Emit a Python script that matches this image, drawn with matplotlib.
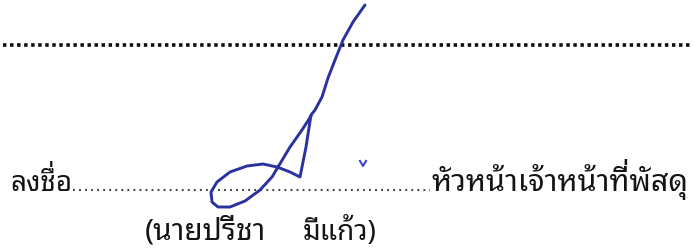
import matplotlib
matplotlib.use('Agg')
import matplotlib.pyplot as plt
import numpy as np

# ข้อความในเอกสาร
label_sign = 'ลงชื่อ'
label_role = 'หัวหน้าเจ้าหน้าที่พัสดุ'
label_name = '(นายปรีชา'
label_surname = 'มีแก้ว)'

# เส้นลายเซ็น (พิกัดพิกเซลของภาพ)
sig_x = [365, 353, 343, 335, 328, 322, 315, 311, 306, 300, 290, 277,
         263, 247, 230, 217, 211, 212, 218, 230, 245, 260, 272, 278,
         290, 302, 311]
sig_y = [5, 22, 40, 60, 78, 97, 110, 115, 147, 177, 172, 167,
         164, 166, 172, 182, 192, 202, 207, 207, 201, 190, 177, 167,
         147, 130, 116]

# เครื่องหมายเล็ก ๆ สีน้ำเงิน
tick_x = [360, 363, 366]
tick_y = [161, 166, 161]

W, H = 693, 248
fig = plt.figure(figsize=(W / 100, H / 100), dpi=100)
ax = fig.add_axes([0, 0, 1, 1])
ax.set_xlim(0, W)
ax.set_ylim(H, 0)
ax.axis('off')
renderer = fig.canvas.get_renderer()

style = dict(family=['Noto Sans Thai Looped', 'DejaVu Sans'],
             weight='semibold', color='#141414', va='baseline')


def width_of(s, size):
    t = ax.text(0, 0, s, fontsize=size, **style)
    w = t.get_window_extent(renderer).width
    t.remove()
    return w


def thai_text(x, y, s, size):
    # วรรณยุกต์ที่อยู่บนสระบน ต้องยกขึ้นเอง เพราะ matplotlib ไม่จัดตำแหน่งให้
    marks = '\u0e48\u0e49\u0e4a\u0e4b'
    uppers = '\u0e31\u0e34\u0e35\u0e36\u0e37\u0e47\u0e4d'
    base = ''
    raised = []
    for i, ch in enumerate(s):
        if ch in marks and i > 0 and s[i - 1] in uppers:
            raised.append((len(base), ch))
        else:
            base += ch
    ax.text(x, y, base, fontsize=size, **style)
    for pos, ch in raised:
        w = width_of(base[:pos - 1], size)
        ax.text(x + w - 1, y - 0.3 * size, ch, fontsize=size, ha='right', **style)


# เส้นประด้านบน
ax.plot([3, W], [45, 45], color='#0e0e0e', lw=2.6,
        linestyle=(0, (0.95, 1.0)), dash_capstyle='butt')

# บรรทัดลงชื่อ
thai_text(10, 191, label_sign, 20)
ax.plot([73, 430], [190, 190], color='#444444', lw=1.5,
        linestyle=(0, (0.9, 2.0)), dash_capstyle='butt')
thai_text(432, 191, label_role, 22)
thai_text(145, 240, label_name, 21.5)
thai_text(303, 240, label_surname, 20)

# ลายเซ็น
ax.plot(sig_x, sig_y, color='#2832a0', lw=2.1,
        solid_joinstyle='round', solid_capstyle='round')
ax.plot(tick_x, tick_y, color='#3a44d0', lw=1.5)

fig.savefig('out.png', dpi=100)
